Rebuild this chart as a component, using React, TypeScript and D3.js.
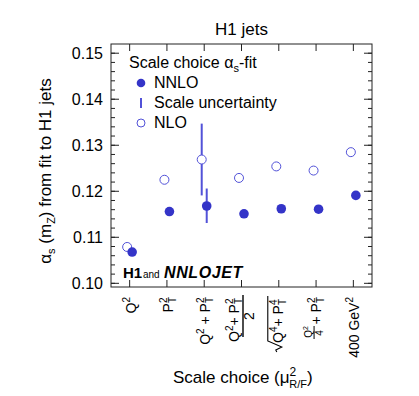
import React from 'react';
import * as d3 from 'd3';

// scale choices (x categories), in plot order
const scaleChoices = ['Q2', 'PT2', 'Q2+PT2', '(Q2+PT2)/2', 'sqrt(Q4+PT4)', 'Q2/4+PT2', '400GeV2'];

// alpha_s(mZ) from the fit
const nnloValues = [0.1068, 0.1156, 0.1168, 0.1151, 0.1162, 0.1161, 0.1191];
const nloValues = [0.1079, 0.1225, 0.1269, 0.1229, 0.1254, 0.1245, 0.1285];

// scale uncertainty, only shown for Q2+PT2
const nnloErr = [null, null, [0.1131, 0.1206], null, null, null, null];
const nloErr = [null, null, [0.1191, 0.1347], null, null, null, null];

const yTicks = [0.10, 0.11, 0.12, 0.13, 0.14, 0.15];

const FONT = '"Liberation Sans", Arial, Helvetica, sans-serif';
const DARK_BLUE = '#3434c8';
const LIGHT_BLUE = '#5252d8';

const W = 419;
const H = 396;
const frame = { left: 111, right: 372, top: 44, bottom: 287 };

const x = d3.scalePoint<string>().domain(scaleChoices).range([frame.left, frame.right]).padding(0.5);
const y = d3.scaleLinear().domain([0.0992, 0.152]).range([frame.bottom, frame.top]);

const minorTicks = d3.range(0.1, 0.1515, 0.002);

const sup = (t: string, fs = 10) => ({ t, fs });

// rotated tick label pieces; local coords: x runs along the text (negative = down on screen),
// y is the baseline offset (positive = right on screen)
function TickLabel({ cat }: { cat: string }) {
  const cx = x(cat) as number;
  const common = { fontFamily: FONT, fontSize: 14, fill: '#000', style: { whiteSpace: 'pre' as const } };
  let body: React.ReactNode = null;
  if (cat === 'Q2') {
    body = (
      <text {...common} x={-2} y={6} textAnchor="end">Q<tspan dy={-6} fontSize={10}>2</tspan></text>
    );
  } else if (cat === 'PT2') {
    body = (
      <text {...common} x={-2} y={6} textAnchor="end">P<tspan dy={-6} fontSize={10}>2</tspan><tspan dx={-5.6} dy={9} fontSize={10}>T</tspan></text>
    );
  } else if (cat === 'Q2+PT2') {
    body = (
      <text {...common} x={-2} y={6} textAnchor="end">Q<tspan dy={-6} fontSize={10}>2</tspan><tspan dy={6}>{' + '}</tspan>P<tspan dy={-6} fontSize={10}>2</tspan><tspan dx={-5.6} dy={9} fontSize={10}>T</tspan></text>
    );
  } else if (cat === '(Q2+PT2)/2') {
    body = (
      <g>
        <text {...common} x={-3} y={-3} textAnchor="end">Q<tspan dy={-6} fontSize={10}>2</tspan><tspan dy={6}>{'+ '}</tspan>P<tspan dy={-6} fontSize={10}>2</tspan><tspan dx={-5.6} dy={9} fontSize={10}>T</tspan></text>
        <line x1={0} x2={-42} y1={1.5} y2={1.5} stroke="#000" strokeWidth={1.4} />
        <text {...common} x={-21} y={12.5} textAnchor="middle">2</text>
      </g>
    );
  } else if (cat === 'sqrt(Q4+PT4)') {
    body = (
      <g>
        <text {...common} x={-4} y={4} textAnchor="end">Q<tspan dy={-6} fontSize={10}>4</tspan><tspan dy={6}>{'+ '}</tspan>P<tspan dy={-6} fontSize={10}>4</tspan><tspan dx={-5.6} dy={9} fontSize={10}>T</tspan></text>
        <path d="M-1,-11 L-46,-11 L-52,3 L-55,-3 L-57,-2" fill="none" stroke="#000" strokeWidth={1.1} />
      </g>
    );
  } else if (cat === 'Q2/4+PT2') {
    body = (
      <g>
        <text {...common} x={-2} y={5} textAnchor="end">{'+ '}P<tspan dy={-6} fontSize={10}>2</tspan><tspan dx={-5.6} dy={9} fontSize={10}>T</tspan></text>
        <text {...common} fontSize={10} x={-37} y={-4} textAnchor="middle">Q<tspan dy={-4} fontSize={7}>2</tspan></text>
        <line x1={-31} x2={-44} y1={-2} y2={-2} stroke="#000" strokeWidth={1} />
        <text {...common} fontSize={10} x={-38} y={7} textAnchor="middle">4</text>
      </g>
    );
  } else {
    body = (
      <text {...common} x={-2} y={6} textAnchor="end">400 GeV<tspan dy={-6} fontSize={10}>2</tspan></text>
    );
  }
  return <g transform={`translate(${cx},295) rotate(-90)`}>{body}</g>;
}

export default function App() {
  const cats = scaleChoices;
  return (
    <svg width={W} height={H} style={{ position: 'absolute', left: 0, top: 0, background: '#fff' }} fontFamily={FONT}>
      <rect x={0} y={0} width={W} height={H} fill="#fff" />

      {/* title */}
      <text x={(frame.left + frame.right) / 2} y={35} textAnchor="middle" fontSize={17}>H1 jets</text>

      {/* frame */}
      <rect x={frame.left} y={frame.top} width={frame.right - frame.left} height={frame.bottom - frame.top} fill="none" stroke="#222" strokeWidth={1} />

      {/* y ticks, both sides */}
      {minorTicks.map((v, i) => (
        <g key={'m' + i}>
          <line x1={frame.left} x2={frame.left + 4} y1={y(v)} y2={y(v)} stroke="#222" />
          <line x1={frame.right} x2={frame.right - 4} y1={y(v)} y2={y(v)} stroke="#222" />
        </g>
      ))}
      {yTicks.map(v => (
        <g key={'t' + v}>
          <line x1={frame.left} x2={frame.left + 8} y1={y(v)} y2={y(v)} stroke="#222" />
          <line x1={frame.right} x2={frame.right - 8} y1={y(v)} y2={y(v)} stroke="#222" />
          <text x={frame.left - 8} y={y(v)} dy="0.36em" textAnchor="end" fontSize={16}>{d3.format('.2f')(v)}</text>
        </g>
      ))}

      {/* x ticks, top and bottom */}
      {cats.map(c => (
        <g key={'x' + c}>
          <line x1={x(c)} x2={x(c)} y1={frame.bottom} y2={frame.bottom - 7} stroke="#222" />
          <line x1={x(c)} x2={x(c)} y1={frame.top} y2={frame.top + 7} stroke="#222" />
          <TickLabel cat={c} />
        </g>
      ))}

      {/* axis titles */}
      <text transform={`translate(51,171) rotate(-90)`} textAnchor="middle" fontSize={17}>
        α<tspan dy={4} fontSize={11}>s</tspan><tspan dy={-4}>{' (m'}</tspan><tspan dy={4} fontSize={11}>Z</tspan><tspan dy={-4}>) from fit to H1 jets</tspan>
      </text>
      <text x={173} y={383} fontSize={17}>
        Scale choice (μ<tspan dy={-7} fontSize={12}>2</tspan><tspan dx={-7} dy={12} fontSize={11}>R/F</tspan><tspan dy={-5}>)</tspan>
      </text>

      {/* error bars */}
      {cats.map((c, i) => {
        const e1 = nloErr[i];
        const e2 = nnloErr[i];
        return (
          <g key={'e' + c}>
            {e1 && <line x1={(x(c) as number) - 2.5} x2={(x(c) as number) - 2.5} y1={y(e1[0])} y2={y(e1[1])} stroke={LIGHT_BLUE} strokeWidth={2} />}
            {e2 && <line x1={(x(c) as number) + 2.5} x2={(x(c) as number) + 2.5} y1={y(e2[0])} y2={y(e2[1])} stroke={LIGHT_BLUE} strokeWidth={2} />}
          </g>
        );
      })}

      {/* NLO open circles */}
      {nloValues.map((v, i) => (
        <circle key={'nlo' + i} cx={(x(cats[i]) as number) - 2.5} cy={y(v)} r={4.5} fill="#fff" stroke={LIGHT_BLUE} strokeWidth={1} />
      ))}
      {/* NNLO filled circles */}
      {nnloValues.map((v, i) => (
        <circle key={'nnlo' + i} cx={(x(cats[i]) as number) + 2.5} cy={y(v)} r={4.8} fill={DARK_BLUE} />
      ))}

      {/* legend */}
      <text x={129} y={68} fontSize={16}>
        Scale choice α<tspan dy={4} fontSize={11}>s</tspan><tspan dy={-4}>-fit</tspan>
      </text>
      <circle cx={141} cy={83} r={4.3} fill={DARK_BLUE} />
      <text x={154} y={88} fontSize={16}>NNLO</text>
      <line x1={141} x2={141} y1={98} y2={108} stroke={LIGHT_BLUE} strokeWidth={2} />
      <text x={154} y={108} fontSize={16}>Scale uncertainty</text>
      <circle cx={141} cy={123} r={4} fill="#fff" stroke={LIGHT_BLUE} strokeWidth={1} />
      <text x={154} y={128} fontSize={16}>NLO</text>

      {/* H1 and NNLOJET */}
      <text x={123} y={278} fontWeight="bold" fontSize={15}>H1</text>
      <text x={143} y={278} fontSize={10}>and</text>
      <text x={164} y={278} fontWeight="bold" fontStyle="italic" fontSize={16} letterSpacing={0.6}>NNLOJET</text>
    </svg>
  );
}
